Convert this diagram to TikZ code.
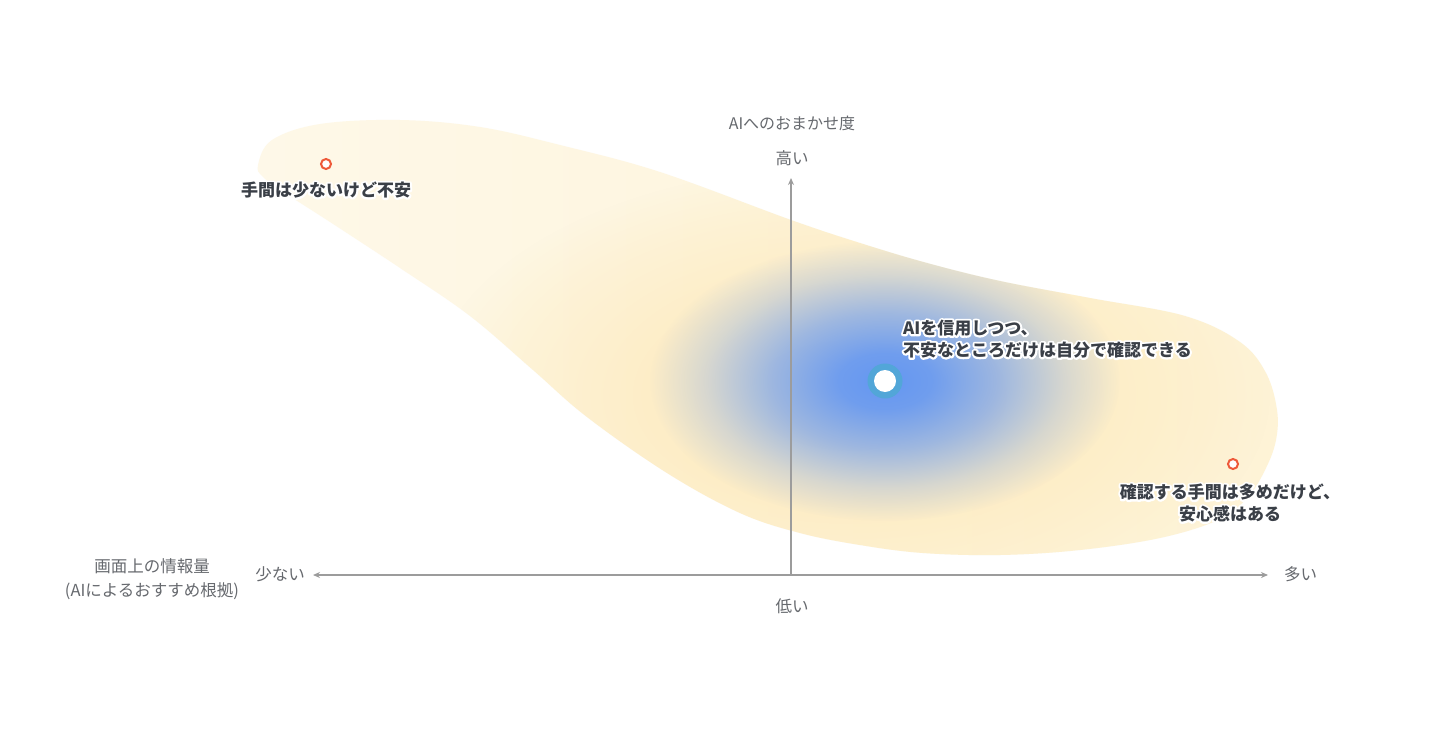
\documentclass[tikz,border=0pt]{standalone}
\usepackage{fontspec}
\setmainfont{Noto Sans CJK JP}
\usetikzlibrary{arrows.meta,fadings}
\definecolor{axisgray}{HTML}{9C9C9C}
\definecolor{lblgray}{HTML}{66696E}
\definecolor{lbldark}{HTML}{3A3F47}
\definecolor{ylwL}{HTML}{FEF8E8}
\definecolor{ylwM}{HTML}{FDEFCA}
\definecolor{ylwR}{HTML}{FEF3D6}
\definecolor{ylwS}{HTML}{FCE3A8}
\definecolor{glowblue}{HTML}{6497F2}
\definecolor{ringblue}{HTML}{52A6D8}
\definecolor{ptred}{HTML}{EE5A3A}
\pgfdeclareradialshading{glowshade}{\pgfpointorigin}{color(0bp)=(pgftransparent!0); color(5bp)=(pgftransparent!8); color(12bp)=(pgftransparent!38); color(19bp)=(pgftransparent!75); color(25bp)=(pgftransparent!100); color(50bp)=(pgftransparent!100)}
\pgfdeclarefading{glow}{\pgfuseshading{glowshade}}
\pgfdeclareradialshading{yshade}{\pgfpointorigin}{color(0bp)=(pgftransparent!45); color(12bp)=(pgftransparent!55); color(20bp)=(pgftransparent!80); color(25bp)=(pgftransparent!100); color(50bp)=(pgftransparent!100)}
\pgfdeclarefading{yglow}{\pgfuseshading{yshade}}
\def\blobpath{plot[smooth cycle, tension=0.6] coordinates {(258,165) (272,140) (320,124) (400,120) (480,127) (560,145) (660,172) (791,220) (860,243) (927,263) (1000,281) (1090,298) (1185,316) (1240,342) (1266,373) (1277,410) (1276,440) (1266,468) (1248,497) (1218,520) (1160,538) (1080,550) (1000,555) (923,553) (860,545) (800,533) (740,513) (667,473) (587,417) (533,370) (470,316) (400,268) (330,222) (285,193) (263,177)}}
\tikzset{
  axis/.style={draw=axisgray, line width=1.4pt},
  tip/.style={-{Stealth[length=7pt,width=6pt]}},
  glbl/.style={text=lblgray, inner sep=0pt, align=center, font=\fontsize{16.5}{24}\selectfont},
  blbl/.style={text=lbldark, inner sep=0pt, font=\bfseries\fontsize{17}{22}\selectfont},
  halo/.style={blbl, text=white},
  ptmark/.style={circle, draw=ptred, line width=2pt, fill=white, minimum size=10pt, inner sep=0pt},
}
\newcommand\halotext[1]{\special{pdf:literal direct 2 Tr 4 w 1 J 1 j 1 1 1 RG}#1\special{pdf:literal direct 0 Tr}}
\begin{document}
\begin{tikzpicture}[x=1pt,y=-1pt]
\useasboundingbox[fill=white] (0,0) rectangle (1440,752);
% blob
\shade[left color=ylwL, middle color=ylwM, right color=ylwR] \blobpath;
\begin{scope}
  \clip \blobpath;
  \fill[ylwS, path fading=yglow] (850,395) ellipse [x radius=420, y radius=230];
  \fill[glowblue, path fading=glow] (885,381) ellipse [x radius=235, y radius=140];
\end{scope}
% axes
\coordinate (O) at (791,575);
\coordinate (top) at (791,178);
\coordinate (left) at (313,575);
\coordinate (right) at (1268,575);
\draw[axis, tip] (O) -- (top);
\draw[axis, {Stealth[length=7pt,width=6pt]}-{Stealth[length=7pt,width=6pt]}] (left) -- (right);
% axis labels
\node[glbl, font=\fontsize{16}{24}\selectfont] (ytitle) at (792,123) {AIへのおまかせ度};
\node[glbl] (yhigh) at (792,158) {高い};
\node[glbl] (ylow) at (792,606) {低い};
\node[glbl, anchor=east] (xfew) at (305,574) {少ない};
\node[glbl, anchor=west] (xmany) at (1284,574) {多い};
\node[glbl] (xtitle) at (152,579) {画面上の情報量\\(AIによるおすすめ根拠)};
% points
\node[ptmark] (p1) at (326,164) {};
\node[ptmark] (p3) at (1233,464) {};
\coordinate (p2) at (885,381);
\fill[ringblue] (p2) circle [radius=17.5];
\fill[white] (p2) circle [radius=11];
% labels (white halo underneath, then text)
\coordinate (l1) at (326,190);
\coordinate (l2) at (903,339);
\coordinate (l3) at (1230,503);
\node[halo] (h1) at (l1) {\halotext{手間は少ないけど不安}};
\node[halo, anchor=west, align=left] (h2) at (l2) {\halotext{AIを信用しつつ、}\\\halotext{不安なところだけは自分で確認できる}};
\node[halo, align=center] (h3) at (l3) {\halotext{確認する手間は多めだけど、}\\\halotext{安心感はある}};
\node[blbl] (t1) at (l1) {手間は少ないけど不安};
\node[blbl, anchor=west, align=left] (t2) at (l2) {AIを信用しつつ、\\不安なところだけは自分で確認できる};
\node[blbl, align=center] (t3) at (l3) {確認する手間は多めだけど、\\安心感はある};
\end{tikzpicture}
\end{document}
